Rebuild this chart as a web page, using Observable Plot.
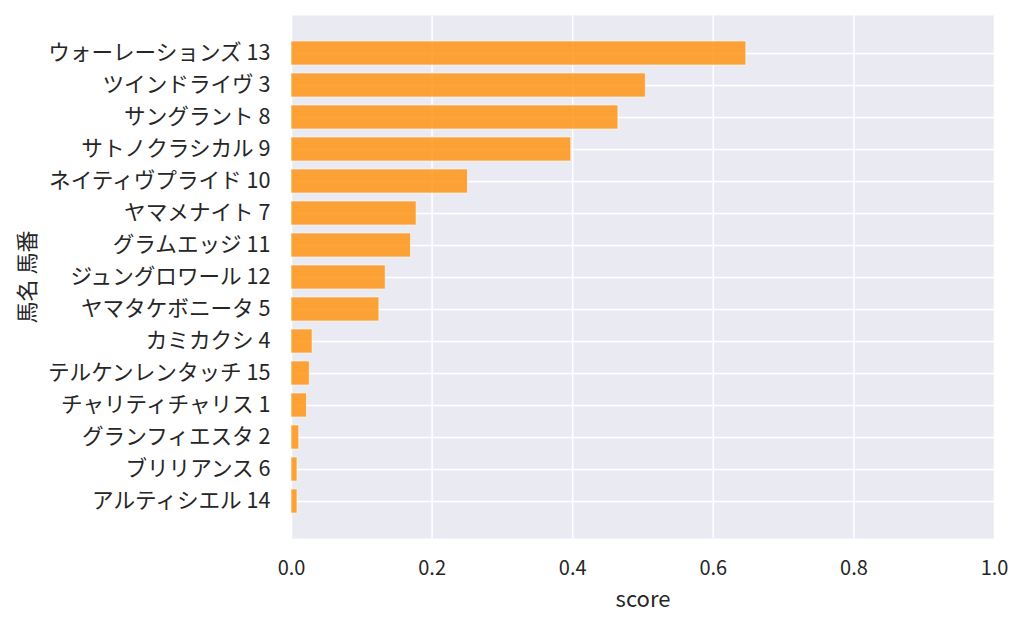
<!DOCTYPE html>
<html>
<head>
<meta charset="utf-8">
<script src="https://cdn.jsdelivr.net/npm/d3@7"></script>
<script src="https://cdn.jsdelivr.net/npm/@observablehq/plot@0.6"></script>
<style>
  html, body { margin: 0; padding: 0; background: #fff; }
  svg { display: block; }
</style>
</head>
<body>
<div id="chart"></div>
<script>
const horses = ["ウォーレーションズ 13","ツインドライヴ 3","サングラント 8","サトノクラシカル 9","ネイティヴプライド 10","ヤマメナイト 7","グラムエッジ 11","ジュングロワール 12","ヤマタケボニータ 5","カミカクシ 4","テルケンレンタッチ 15","チャリティチャリス 1","グランフィエスタ 2","ブリリアンス 6","アルティシエル 14"];
const scores = [0.647, 0.504, 0.465, 0.398, 0.251, 0.178, 0.170, 0.134, 0.125, 0.030, 0.026, 0.022, 0.011, 0.0085, 0.0085];
const xTicks = [0, 0.2, 0.4, 0.6, 0.8, 1.0];

const data = horses.map((h, i) => ({horse: h, score: scores[i]}));
const font = "'Noto Sans CJK JP', 'Noto Sans', sans-serif";

const chart = Plot.plot({
  width: 1024,
  height: 627,
  marginLeft: 291,
  marginRight: 30,
  marginTop: 15,
  marginBottom: 89,
  style: {fontFamily: font, fontSize: "20px", color: "#262626", background: "#fff"},
  x: {domain: [0, 1]},
  y: {type: "band", domain: horses, paddingInner: 0.26, paddingOuter: 0.725},
  marks: [
    Plot.frame({fill: "#EAEAF2", stroke: "none"}),
    Plot.gridX(xTicks, {stroke: "white", strokeOpacity: 1, strokeWidth: 1.5}),
    Plot.gridY(horses, {stroke: "white", strokeOpacity: 1, strokeWidth: 1.5}),
    Plot.barX(data, {x: "score", y: "horse", fill: "#FF8C00", fillOpacity: 0.78, stroke: "#fff", strokeOpacity: 0.6, strokeWidth: 1}),
    Plot.axisX({ticks: xTicks, tickFormat: d3.format(".1f"), tickSize: 0, tickPadding: 22, fontSize: 20, label: null}),
    Plot.axisX({ticks: [], tickSize: 0, fontSize: 22, label: "score", labelAnchor: "center", labelArrow: "none", labelOffset: 68}),
    Plot.axisY({tickSize: 0, tickPadding: 21, fontSize: 21.6, label: null}),
    Plot.axisY({ticks: [], tickSize: 0, fontSize: 22, label: "馬名 馬番", labelAnchor: "center", labelArrow: "none", labelOffset: 272})
  ]
});
document.getElementById("chart").appendChild(chart);
</script>
</body>
</html>
